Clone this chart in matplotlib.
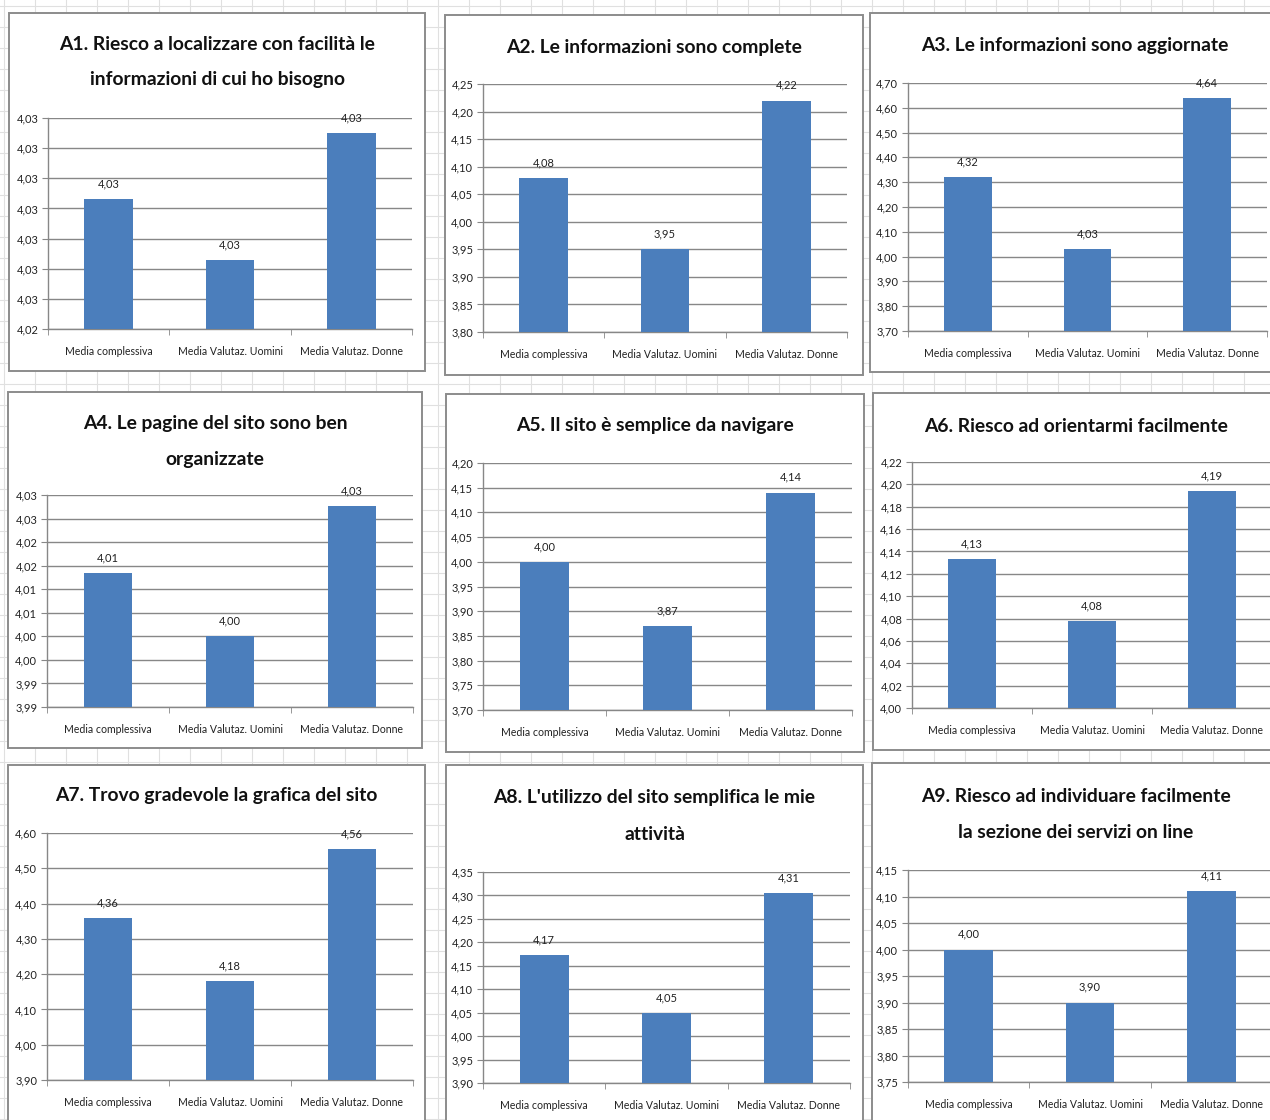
import matplotlib
matplotlib.use("Agg")
import matplotlib.pyplot as plt
from matplotlib.patches import Rectangle
from matplotlib.ticker import FixedLocator, FuncFormatter
from decimal import Decimal, ROUND_HALF_UP
import numpy as np

W, H = 1270, 1120

categories = ["Media complessiva", "Media Valutaz. Uomini", "Media Valutaz. Donne"]

titles = [
    "A1. Riesco a localizzare con facilità le\ninformazioni di cui ho bisogno",
    "A2. Le informazioni sono complete",
    "A3. Le informazioni sono aggiornate",
    "A4. Le pagine del sito sono ben\norganizzate",
    "A5. Il sito è semplice da navigare",
    "A6. Riesco ad orientarmi facilmente",
    "A7. Trovo gradevole la grafica del sito",
    "A8. L'utilizzo del sito semplifica le mie\nattività",
    "A9. Riesco ad individuare facilmente\nla sezione dei servizi on line",
]

# medie per domanda: complessiva, uomini, donne
a1 = [4.0283, 4.0263, 4.0305]
a2 = [4.08, 3.95, 4.22]
a3 = [4.32, 4.03, 4.64]
a4 = [4.0134, 4.0000, 4.0276]
a5 = [4.00, 3.87, 4.14]
a6 = [4.133, 4.078, 4.194]
a7 = [4.36, 4.18, 4.555]
a8 = [4.172, 4.05, 4.305]
a9 = [4.00, 3.90, 4.11]
values = [a1, a2, a3, a4, a5, a6, a7, a8, a9]

# scala asse y (min, max, passo) come impostata da Excel
y_scales = [
    (4.024, 4.031, 0.001),
    (3.80, 4.25, 0.05),
    (3.70, 4.70, 0.10),
    (3.985, 4.030, 0.005),
    (3.70, 4.20, 0.05),
    (4.00, 4.22, 0.02),
    (3.90, 4.60, 0.10),
    (3.90, 4.35, 0.05),
    (3.75, 4.15, 0.05),
]

# riquadro del grafico e area del tracciato, in pixel (x0, y0, x1, y1)
boxes = [
    (9, 13, 425, 371), (445, 15, 863, 375), (870, 13, 1280, 372),
    (8, 392, 422, 748), (446, 394, 864, 752), (873, 393, 1280, 750),
    (8, 765, 425, 1130), (446, 765, 863, 1130), (872, 763, 1280, 1130),
]
plots = [
    (48, 118, 412, 329), (483, 84, 847, 332), (908, 83, 1267, 331),
    (47, 495, 413, 707), (483, 463, 852, 710), (912, 462, 1272, 708),
    (47, 833, 413, 1080), (483, 872, 850, 1083), (908, 870, 1272, 1082),
]
title_y = [
    (44, 80), (47,), (45,),
    (423, 460), (425,), (427,),
    (795,), (798, 835), (797, 833),
]

BAR = "#4B7EBC"
GRID = "#878787"
TEXT = "#222222"

plt.rcParams["font.family"] = ["Lato", "DejaVu Sans"]


def fmt_it(v, _pos=None):
    d = Decimal(str(round(float(v), 6))).quantize(Decimal("0.01"), rounding=ROUND_HALF_UP)
    return str(d).replace(".", ",")


def fx(px):
    return px / W


def fy(py):
    return 1 - py / H


fig = plt.figure(figsize=(W / 100, H / 100), dpi=100)
fig.patch.set_facecolor("white")

# griglia del foglio di calcolo sullo sfondo
bg = fig.add_axes([0, 0, 1, 1], zorder=-10)
bg.set_xlim(0, W)
bg.set_ylim(H, 0)
bg.axis("off")
for x in np.arange(4, W, 31):
    bg.axvline(x, color="#e0e0e0", lw=0.8)
for y in np.arange(6, H, 21):
    bg.axhline(y, color="#e0e0e0", lw=0.8)

for i in range(9):
    x0, y0, x1, y1 = boxes[i]
    fig.patches.append(Rectangle((fx(x0), fy(y1)), fx(x1 - x0), (y1 - y0) / H,
                                 transform=fig.transFigure, facecolor="white",
                                 edgecolor="#8c8c8c", lw=1.4, zorder=0))
    cx = (x0 + x1) / 2
    for line, ty in zip(titles[i].split("\n"), title_y[i]):
        fig.text(fx(cx), fy(ty), line, ha="center", va="center",
                 fontsize=13.9, fontweight="bold", color="#111111", zorder=3)

    px0, py0, px1, py1 = plots[i]
    ax = fig.add_axes([fx(px0), fy(py1), fx(px1 - px0), (py1 - py0) / H], zorder=2)
    ax.patch.set_alpha(0)

    lo, hi, step = y_scales[i]
    ticks = np.round(np.arange(lo, hi + step / 2, step), 6)
    ax.yaxis.set_major_locator(FixedLocator(ticks))
    ax.yaxis.set_major_formatter(FuncFormatter(fmt_it))
    ax.grid(axis="y", color=GRID, lw=1.0)
    ax.set_axisbelow(True)

    xs = np.arange(len(categories))
    bars = ax.bar(xs, values[i], width=0.4, color=BAR, zorder=3)
    ax.set_xlim(-0.5, 2.5)
    ax.set_ylim(lo, hi)
    for b, v in zip(bars, values[i]):
        ax.annotate(fmt_it(v), (b.get_x() + b.get_width() / 2, v),
                    xytext=(0, 7), textcoords="offset points",
                    ha="center", va="bottom", fontsize=8, color=TEXT)

    ax.set_xticks(xs)
    ax.set_xticklabels(categories)
    ax.set_xticks([-0.5, 0.5, 1.5, 2.5], minor=True)
    ax.tick_params(axis="x", which="major", length=0, pad=12,
                   labelsize=7.6, labelcolor=TEXT)
    ax.tick_params(axis="x", which="minor", length=4, color=GRID, direction="out")
    ax.tick_params(axis="y", length=4, color=GRID, direction="out", pad=3,
                   labelsize=8, labelcolor=TEXT)
    for s in ("top", "right"):
        ax.spines[s].set_visible(False)
    for s in ("left", "bottom"):
        ax.spines[s].set_color(GRID)
        ax.spines[s].set_linewidth(1.0)

fig.savefig("out.png", dpi=100)
